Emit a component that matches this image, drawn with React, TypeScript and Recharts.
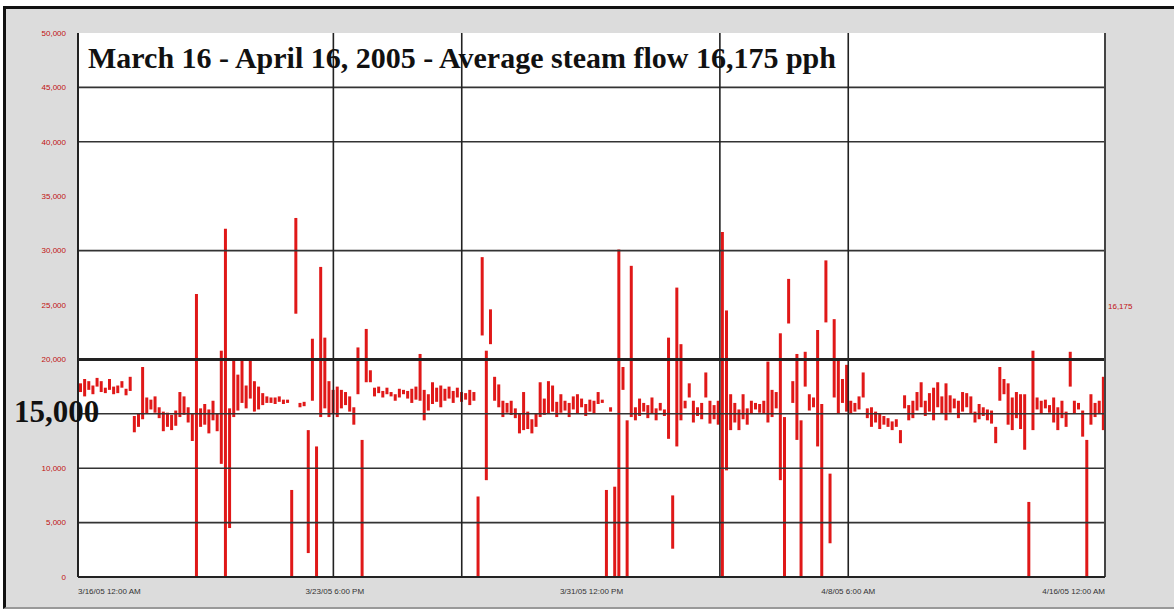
import { ComposedChart, Bar, XAxis, YAxis, CartesianGrid, ReferenceLine } from "recharts";

// steam flow, thousands of pph, one range per 3-hour interval (Mar 16 - Apr 16, 2005)
const lows = [
  17.0, 16.6, 17.2, 16.8, 17.5, 17.0, 16.9, 17.2, 16.8, 16.9,
  17.4, 16.7, 17.1, 13.3, 13.8, 14.5, 15.0, 15.4, 15.1, 14.6,
  13.4, 13.8, 13.5, 13.9, 14.7, 14.9, 14.2, 12.5, 0, 13.8,
  14.0, 13.2, 14.4, 13.4, 10.4, 0, 4.5, 14.7, 15.3, 16.0,
  15.5, 16.4, 15.2, 15.4, 15.8, 16.0, 16.0, 15.9, 16.1, 15.9,
  16.0, 0, 24.2, 15.6, 15.7, 2.2, 16.2, 0, 14.7, 15.5,
  14.7, 15.0, 14.7, 15.5, 15.8, 15.2, 14.0, 16.8, 0, 17.9,
  17.9, 16.6, 16.9, 16.5, 16.8, 16.6, 16.2, 16.5, 16.8, 16.4,
  16.0, 16.3, 16.2, 14.4, 15.3, 15.9, 16.1, 15.6, 16.2, 16.4,
  16.0, 16.5, 16.1, 16.3, 15.8, 16.2, 0, 22.2, 8.9, 21.4,
  16.2, 15.6, 14.7, 15.1, 14.9, 14.6, 13.2, 13.5, 13.6, 13.2,
  13.8, 14.7, 14.9, 15.0, 15.2, 14.7, 15.1, 15.3, 14.7, 15.4,
  15.0, 15.6, 14.8, 15.2, 15.0, 15.9, 16.0, 0, 15.2, 0,
  0, 17.2, 0, 14.7, 14.4, 14.8, 15.2, 14.6, 15.0, 14.4,
  15.3, 14.8, 12.7, 2.6, 12.0, 14.4, 15.5, 16.5, 14.2, 14.8,
  14.5, 16.5, 14.1, 14.5, 14.0, 0, 9.8, 13.5, 14.2, 13.5,
  14.5, 14.0, 15.0, 15.4, 15.1, 15.0, 14.2, 14.7, 15.5, 8.9,
  0, 23.3, 16.0, 12.6, 0, 17.5, 15.3, 15.6, 12.0, 0,
  23.4, 3.1, 16.5, 15.0, 16.0, 15.2, 15.0, 15.2, 15.4, 16.5,
  14.6, 13.8, 14.2, 13.6, 14.0, 13.8, 13.5, 13.8, 12.3, 15.5,
  14.4, 14.6, 15.3, 15.6, 14.8, 15.2, 14.4, 15.6, 15.0, 14.4,
  15.1, 15.5, 14.6, 15.2, 15.6, 15.0, 14.2, 14.5, 14.8, 14.4,
  14.1, 12.3, 16.2, 16.8, 14.0, 13.5, 14.6, 13.6, 11.7, 0,
  13.5, 15.4, 15.0, 15.5, 15.1, 14.2, 13.5, 14.6, 13.8, 17.5,
  15.0, 15.4, 12.9, 0, 14.0, 14.7, 15.0, 13.5,
];

const highs = [
  17.8, 18.2, 18.0, 17.6, 18.3, 18.0, 17.4, 18.2, 17.5, 17.6,
  18.0, 17.3, 18.4, 14.8, 15.0, 19.3, 16.5, 16.3, 16.6, 15.6,
  15.2, 15.1, 14.9, 15.3, 17.0, 16.6, 15.6, 15.0, 26.0, 15.5,
  15.9, 15.4, 16.2, 15.0, 20.8, 32.0, 15.5, 19.9, 18.6, 19.9,
  17.6, 19.9, 18.0, 17.5, 16.9, 16.6, 16.5, 16.5, 16.6, 16.3,
  16.3, 8.0, 33.0, 16.0, 16.1, 13.5, 21.9, 12.0, 28.5, 22.0,
  18.0, 17.2, 17.5, 17.2, 17.0, 16.6, 15.6, 21.1, 12.6, 22.8,
  19.0, 17.4, 17.5, 17.1, 17.4, 17.0, 16.8, 17.3, 17.2, 17.1,
  17.3, 17.5, 20.5, 17.2, 16.8, 17.9, 17.4, 17.6, 17.3, 17.5,
  17.1, 17.4, 17.0, 16.9, 17.2, 17.0, 7.4, 29.4, 20.8, 24.6,
  18.4, 17.7, 16.2, 16.0, 16.2, 15.5, 15.0, 17.0, 15.2, 14.5,
  15.0, 17.9, 16.4, 18.0, 17.6, 16.1, 16.8, 16.2, 16.0, 16.6,
  16.8, 16.4, 15.9, 16.3, 16.2, 17.0, 16.3, 8.0, 15.6, 8.3,
  30.1, 19.3, 14.4, 28.6, 15.6, 16.4, 16.0, 15.8, 16.5, 15.5,
  16.0, 15.4, 22.0, 7.5, 26.6, 21.4, 16.2, 17.8, 16.2, 15.6,
  16.0, 18.8, 16.2, 15.8, 16.2, 31.7, 24.5, 16.8, 16.0, 15.4,
  16.8, 15.5, 16.2, 16.0, 15.9, 16.2, 19.8, 17.2, 17.0, 22.4,
  14.7, 27.4, 18.0, 20.5, 14.4, 20.7, 16.8, 16.5, 22.7, 15.9,
  29.1, 9.5, 23.7, 19.9, 18.2, 19.5, 16.2, 16.0, 16.6, 18.8,
  15.5, 15.6, 15.2, 15.0, 14.8, 14.6, 14.3, 14.5, 13.5, 16.7,
  15.8, 16.2, 17.0, 17.9, 16.2, 16.9, 17.4, 17.9, 16.6, 17.8,
  16.7, 16.4, 16.2, 17.0, 16.9, 16.6, 15.2, 15.9, 15.6, 15.4,
  15.3, 13.8, 19.3, 18.2, 17.8, 16.5, 17.0, 16.8, 16.8, 6.9,
  20.8, 16.5, 16.2, 16.3, 15.8, 16.5, 15.6, 16.2, 15.2, 20.7,
  16.2, 16.0, 15.3, 12.6, 16.8, 16.0, 16.2, 18.4,
];

const xTicks = [0, 186, 372, 558, 744];
const xTickLabels = ["3/16/05 12:00 AM", "3/23/05 6:00 PM", "3/31/05 12:00 PM", "4/8/05 6:00 AM", "4/16/05 12:00 AM"];
const yTicks = [0, 5, 10, 15, 20, 25, 30, 35, 40, 45, 50];
const hGrid = [5, 10, 15, 30, 40, 45];
const vGrid = [185, 278, 465, 558];

const data = lows.map((lo, i) => ({ t: i * 3 + 1.5, range: [lo, highs[i]] }));

const XTick = (props: any) => {
  const { x, y, payload } = props;
  const idx = xTicks.indexOf(payload.value);
  const anchor = idx === 0 ? "start" : idx === xTicks.length - 1 ? "end" : "middle";
  return (
    <text x={x} y={y + 9} textAnchor={anchor} fontSize={8} fill="#333" fontFamily="Liberation Sans">
      {xTickLabels[idx]}
    </text>
  );
};

export default function App() {
  return (
    <div style={{ position: "absolute", left: 0, top: 0, width: 1174, height: 609, background: "#fff", overflow: "hidden" }}>
      <div
        style={{
          position: "absolute", left: 3, top: 6, width: 1171, height: 603, boxSizing: "border-box",
          borderTop: "3px solid #111", borderLeft: "3px solid #111", borderBottom: "2px solid #999",
          background: "#dcdcdc",
        }}
      />
      <div style={{ position: "absolute", left: 0, top: 0 }}>
        <ComposedChart width={1174} height={609} data={data} margin={{ top: 33, right: 69, bottom: 12, left: 8 }}>
          <CartesianGrid horizontal={false} vertical={false} fill="#fff" />
          <XAxis
            type="number"
            dataKey="t"
            domain={[0, 744]}
            ticks={xTicks}
            tick={<XTick />}
            height={20}
            tickLine={false}
            axisLine={{ stroke: "#222", strokeWidth: 2 }}
            interval={0}
          />
          <YAxis
            type="number"
            domain={[0, 50]}
            ticks={yTicks}
            width={70}
            interval={0}
            tickLine={false}
            tickMargin={6}
            axisLine={{ stroke: "#222", strokeWidth: 2 }}
            tick={{ fill: "#c01010", fontSize: 8, fontFamily: "Liberation Sans" }}
            tickFormatter={(v: number) => (v === 15 ? "" : (v * 1000).toLocaleString("en-US"))}
          />
          {hGrid.map((v) => (
            <ReferenceLine key={"h" + v} y={v} stroke="#333" strokeWidth={1.6} />
          ))}
          <ReferenceLine y={20} stroke="#222" strokeWidth={3} />
          {vGrid.map((v) => (
            <ReferenceLine key={"v" + v} x={v} stroke="#222" strokeWidth={1.6} />
          ))}
          <ReferenceLine x={744} stroke="#444" strokeWidth={2} />
          <Bar dataKey="range" fill="#e01818" barSize={3} isAnimationActive={false} />
        </ComposedChart>
      </div>
      <div
        style={{
          position: "absolute", left: 88, top: 41, fontFamily: "Liberation Serif", fontWeight: "bold",
          fontSize: 30, color: "#111", whiteSpace: "nowrap",
        }}
      >
        March 16 - April 16, 2005 - Average steam flow 16,175 pph
      </div>
      <div
        style={{
          position: "absolute", left: 14, top: 394, fontFamily: "Liberation Serif", fontWeight: "bold",
          fontSize: 31, color: "#111", whiteSpace: "nowrap",
        }}
      >
        15,000
      </div>
      <div
        style={{
          position: "absolute", left: 1108, top: 302, fontFamily: "Liberation Sans",
          fontSize: 8, color: "#c01010", whiteSpace: "nowrap",
        }}
      >
        16,175
      </div>
    </div>
  );
}
